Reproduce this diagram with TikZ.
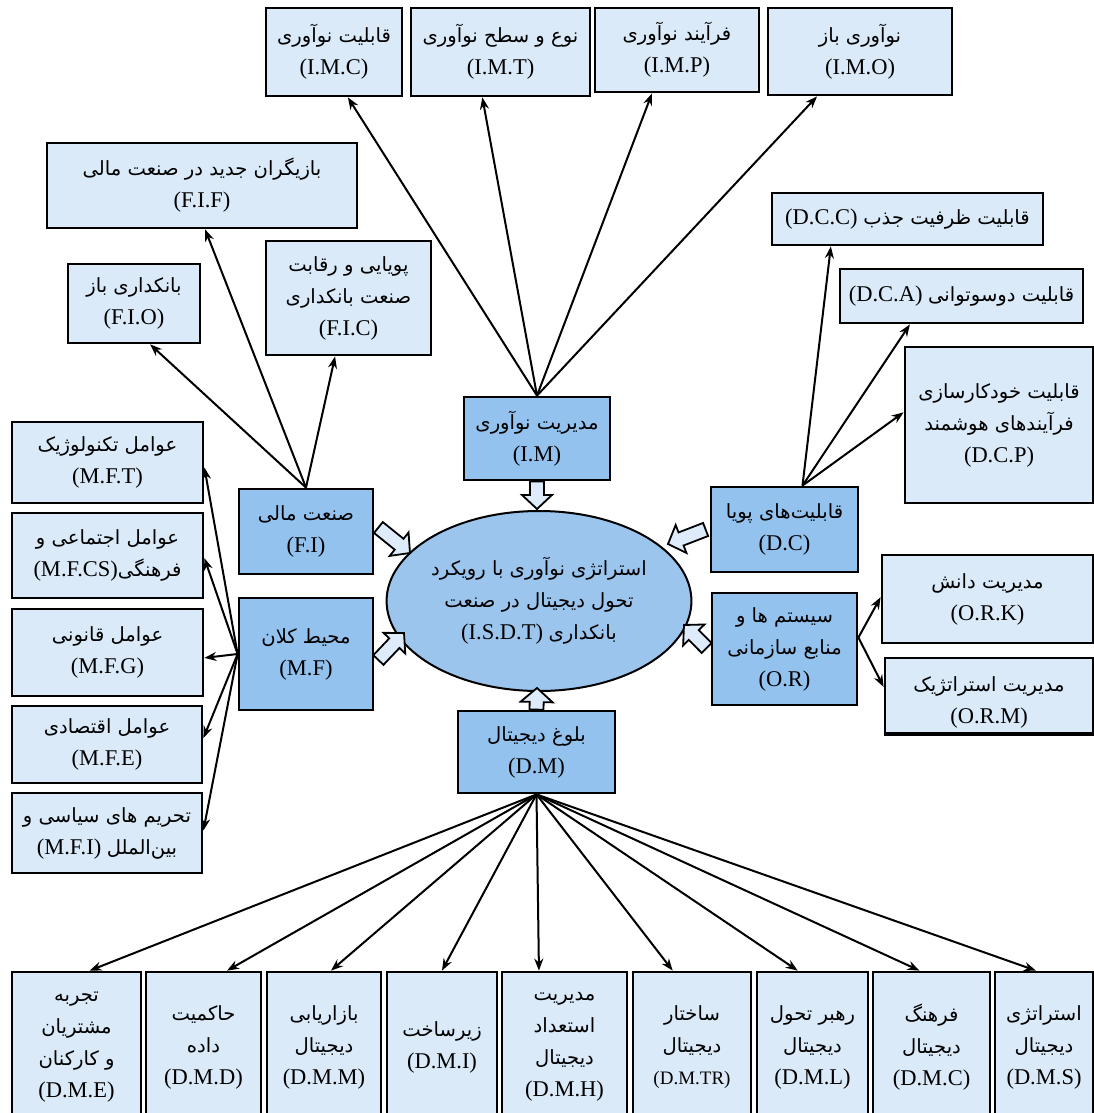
\documentclass[tikz,border=0pt]{standalone}
\usepackage{fontspec}
\setmainfont{Liberation Serif}
\newfontfamily\arabicfont[Script=Arabic,Scale=0.87]{DejaVu Sans}
\TeXXeTstate=1
\usetikzlibrary{shapes.geometric,arrows.meta,calc}
\definecolor{lightbox}{HTML}{DAEAF9}
\definecolor{darkbox}{HTML}{93C2EE}
\definecolor{ellfill}{HTML}{9CC5EE}
\definecolor{arrowfill}{HTML}{DDEBFA}
\newcommand\pers[1]{{\arabicfont\beginR#1\endR}}
\newcommand\hollowarr[4]{%
  \coordinate (hA) at #1; \coordinate (hB) at #2;
  \coordinate (hH) at ($(hB)!14pt!(hA)$);
  \draw[hollow] ($(hA)!#3!90:(hB)$) -- ($(hH)!#3!-90:(hA)$) -- ($(hH)!#4!-90:(hA)$) -- (hB)
    -- ($(hH)!#4!90:(hA)$) -- ($(hH)!#3!90:(hA)$) -- ($(hA)!#3!-90:(hB)$) -- cycle;}
\begin{document}
\begin{tikzpicture}[x=1pt,y=-1pt,
  box/.style={draw=black, line width=2.8pt, inner sep=2pt, align=center, font=\fontsize{22.5}{32}\selectfont},
  lbox/.style={box, fill=lightbox},
  dbox/.style={box, fill=darkbox},
  txt/.style={align=center, inner sep=0pt, font=\fontsize{22.5}{32}\selectfont},
  conn/.style={line width=2pt, -{Stealth[length=12pt,width=9pt]}},
  hollow/.style={draw=black, line width=1.8pt, fill=arrowfill, line join=miter}]
\clip (0,0) rectangle (1094,1113);
\fill[white] (0,0) rectangle (1094,1113);

% top row: innovation management children
\node[lbox, minimum width=136pt, minimum height=88pt] (imc) at (334,52) {\pers{قابلیت نوآوری}\\(I.M.C)};
\node[lbox, minimum width=179pt, minimum height=88pt] (imt) at (500.5,52) {\pers{نوع و سطح نوآوری}\\(I.M.T)};
\node[lbox, minimum width=164pt, minimum height=84pt] (imp) at (677,50) {\pers{فرآیند نوآوری}\\(I.M.P)};
\node[lbox, minimum width=184pt, minimum height=87pt] (imo) at (860,51.5) {\pers{نوآوری باز}\\(I.M.O)};

% financial industry children
\node[lbox, minimum width=310pt, minimum height=85pt] (fif) at (202,185.5) {\pers{بازیگران جدید در صنعت مالی}\\(F.I.F)};
\node[lbox, minimum width=132pt, minimum height=79pt] (fio) at (134,303.5) {\pers{بانکداری باز}\\(F.I.O)};
\node[lbox, minimum width=165pt, minimum height=114pt] (fic) at (348.5,298) {\pers{پویایی و رقابت}\\\pers{صنعت بانکداری}\\(F.I.C)};

% dynamic capabilities children
\node[lbox, minimum width=271pt, minimum height=52pt] (dcc) at (907.5,219) {(D.C.C) \pers{قابلیت ظرفیت جذب}};
\node[lbox, minimum width=243pt, minimum height=54pt] (dca) at (961.5,296) {(D.C.A) \pers{قابلیت دوسوتوانی}};
\node[lbox, minimum width=188pt, minimum height=156pt] (dcp) at (999,425) {\pers{قابلیت خودکارسازی}\\\pers{فرآیندهای هوشمند}\\(D.C.P)};

% macro environment children
\node[lbox, minimum width=191pt, minimum height=81pt] (mft) at (107.5,462.5) {\pers{عوامل  تکنولوژیک}\\(M.F.T)};
\node[lbox, minimum width=191pt, minimum height=85pt] (mfcs) at (107.5,555.5) {\pers{عوامل اجتماعی و}\\(M.F.CS)\pers{فرهنگی}};
\node[lbox, minimum width=191pt, minimum height=87pt] (mfg) at (107.5,652.5) {\pers{عوامل قانونی}\\(M.F.G)};
\node[lbox, minimum width=190pt, minimum height=77pt] (mfe) at (107,744.5) {\pers{عوامل اقتصادی}\\(M.F.E)};
\node[lbox, minimum width=190pt, minimum height=80pt] (mfi) at (107,833) {\pers{تحریم های سیاسی و}\\(M.F.I) \pers{بین‌الملل}};

% organisational resources children
\node[lbox, minimum width=211pt, minimum height=88pt] (ork) at (987.5,599) {\pers{مدیریت دانش}\\(O.R.K)};
\node[lbox, minimum width=208pt, minimum height=75pt] (orm) at (989,695.5) {};
\node[txt] (ormtext) at (989,702) {\pers{مدیریت استراتژیک}\\(O.R.M)};
\draw[line width=2.8pt] (orm.south west) -- (orm.south east);

% main dimensions
\node[dbox, minimum width=146pt, minimum height=83pt] (im) at (537,438.5) {\pers{مدیریت نوآوری}\\(I.M)};
\node[dbox, minimum width=134pt, minimum height=85pt] (fi) at (306,531.5) {\pers{صنعت مالی}\\(F.I)};
\node[dbox, minimum width=134pt, minimum height=112pt] (mf) at (306,654) {\pers{محیط کلان}\\(M.F)};
\node[dbox, minimum width=147pt, minimum height=85pt] (dc) at (784.5,529.5) {\pers{قابلیت‌های پویا}\\(D.C)};
\node[dbox, minimum width=145pt, minimum height=112pt] (orr) at (784.5,649) {\pers{سیستم ها و}\\\pers{منابع سازمانی}\\(O.R)};
\node[dbox, minimum width=157pt, minimum height=82pt] (dm) at (536.5,752) {\pers{بلوغ دیجیتال}\\(D.M)};

% central ellipse
\node[ellipse, draw=black, line width=2pt, fill=ellfill, minimum width=292pt, minimum height=180pt, inner sep=0pt, align=center, font=\fontsize{22.5}{32}\selectfont] (isdt) at (539,601)
  {\pers{استراتژی نوآوری با رویکرد}\\\pers{تحول دیجیتال در صنعت}\\(I.S.D.T) \pers{بانکداری}};

% bottom row: digital maturity children
\node[lbox, minimum width=129pt, minimum height=150pt] (dme) at (76.5,1047) {\pers{تجربه}\\\pers{مشتریان}\\\pers{و کارکنان}\\(D.M.E)};
\node[lbox, minimum width=115pt, minimum height=150pt] (dmd) at (203.5,1047) {\pers{حاکمیت}\\\pers{داده}\\(D.M.D)};
\node[lbox, minimum width=114pt, minimum height=150pt] (dmm) at (324,1047) {\pers{بازاریابی}\\\pers{دیجیتال}\\(D.M.M)};
\node[lbox, minimum width=110pt, minimum height=150pt] (dmi) at (442,1047) {\pers{زیرساخت}\\(D.M.I)};
\node[lbox, minimum width=125pt, minimum height=150pt] (dmh) at (564.5,1047) {\pers{مدیریت}\\\pers{استعداد}\\\pers{دیجیتال}\\(D.M.H)};
\node[lbox, minimum width=118pt, minimum height=150pt] (dmtr) at (692,1047) {\pers{ساختار}\\\pers{دیجیتال}\\{\fontsize{19}{32}\selectfont(D.M.TR)}};
\node[lbox, minimum width=111pt, minimum height=150pt] (dml) at (812.5,1047) {\pers{رهبر تحول}\\\pers{دیجیتال}\\(D.M.L)};
\node[lbox, minimum width=117pt, minimum height=150pt] (dmc) at (931.5,1047) {\pers{فرهنگ}\\\pers{دیجیتال}\\(D.M.C)};
\node[lbox, minimum width=98pt, minimum height=150pt] (dms) at (1044,1047) {\pers{استراتژی}\\\pers{دیجیتال}\\(D.M.S)};

% connectors: innovation management
\draw[conn] (im.north) -- ($(imc.south west)!0.6!(imc.south east)$);
\draw[conn] (im.north) -- ($(imt.south west)!0.4!(imt.south east)$);
\draw[conn] (im.north) -- ($(imp.south west)!0.35!(imp.south east)$);
\draw[conn] (im.north) -- ($(imo.south west)!0.27!(imo.south east)$);
% financial industry
\draw[conn] (fi.north) -- ($(fif.south west)!0.51!(fif.south east)$);
\draw[conn] (fi.north) -- ($(fio.south west)!0.62!(fio.south east)$);
\draw[conn] (fi.north) -- ($(fic.south west)!0.42!(fic.south east)$);
% dynamic capabilities
\coordinate (dctop) at ($(dc.north west)!0.62!(dc.north east)$);
\draw[conn] (dctop) -- ($(dcc.south west)!0.22!(dcc.south east)$);
\draw[conn] (dctop) -- ($(dca.south west)!0.29!(dca.south east)$);
\draw[conn] (dctop) -- ($(dcp.north west)!0.42!(dcp.south west)$);
% macro environment
\draw[conn] (mf.west) -- ($(mft.north east)!0.56!(mft.south east)$);
\draw[conn] (mf.west) -- ($(mfcs.north east)!0.53!(mfcs.south east)$);
\draw[conn] (mf.west) -- ($(mfg.north east)!0.56!(mfg.south east)$);
\draw[conn] (mf.west) -- ($(mfe.north east)!0.42!(mfe.south east)$);
\draw[conn] (mf.west) -- ($(mfi.north east)!0.47!(mfi.south east)$);
% organisational resources
\coordinate (orright) at ($(orr.north east)!0.4!(orr.south east)$);
\draw[conn] (orright) -- ($(ork.north west)!0.48!(ork.south west)$);
\draw[conn] (orright) -- ($(orm.north west)!0.39!(orm.south west)$);
% digital maturity
\draw[conn] (dm.south) -- ($(dme.north west)!0.6!(dme.north east)$);
\draw[conn] (dm.south) -- ($(dmd.north west)!0.7!(dmd.north east)$);
\draw[conn] (dm.south) -- ($(dmm.north west)!0.56!(dmm.north east)$);
\draw[conn] (dm.south) -- ($(dmi.north west)!0.5!(dmi.north east)$);
\draw[conn] (dm.south) -- ($(dmh.north west)!0.3!(dmh.north east)$);
\draw[conn] (dm.south) -- ($(dmtr.north west)!0.34!(dmtr.north east)$);
\draw[conn] (dm.south) -- ($(dml.north west)!0.37!(dml.north east)$);
\draw[conn] (dm.south) -- ($(dmc.north west)!0.4!(dmc.north east)$);
\draw[conn] (dm.south) -- ($(dms.north west)!0.42!(dms.north east)$);

% hollow block arrows into the ellipse
\hollowarr{(im.south)}{($(isdt.center)+(-2,-92)$)}{7pt}{15pt}
\hollowarr{(dm.north)}{($(isdt.center)+(-2,87)$)}{7pt}{16pt}
\hollowarr{($(fi.east)+(4,-4)$)}{($(isdt.center)+(-129,-48)$)}{7pt}{15pt}
\hollowarr{($(mf.east)+(4,6)$)}{($(isdt.center)+(-135,32)$)}{7pt}{15pt}
\hollowarr{($(dc.west)+(-4,0)$)}{($(isdt.center)+(129,-57)$)}{7pt}{15pt}
\hollowarr{($(orr.west)+(-4,-1)$)}{($(isdt.center)+(145,24)$)}{7pt}{15pt}
\end{tikzpicture}
\end{document}
